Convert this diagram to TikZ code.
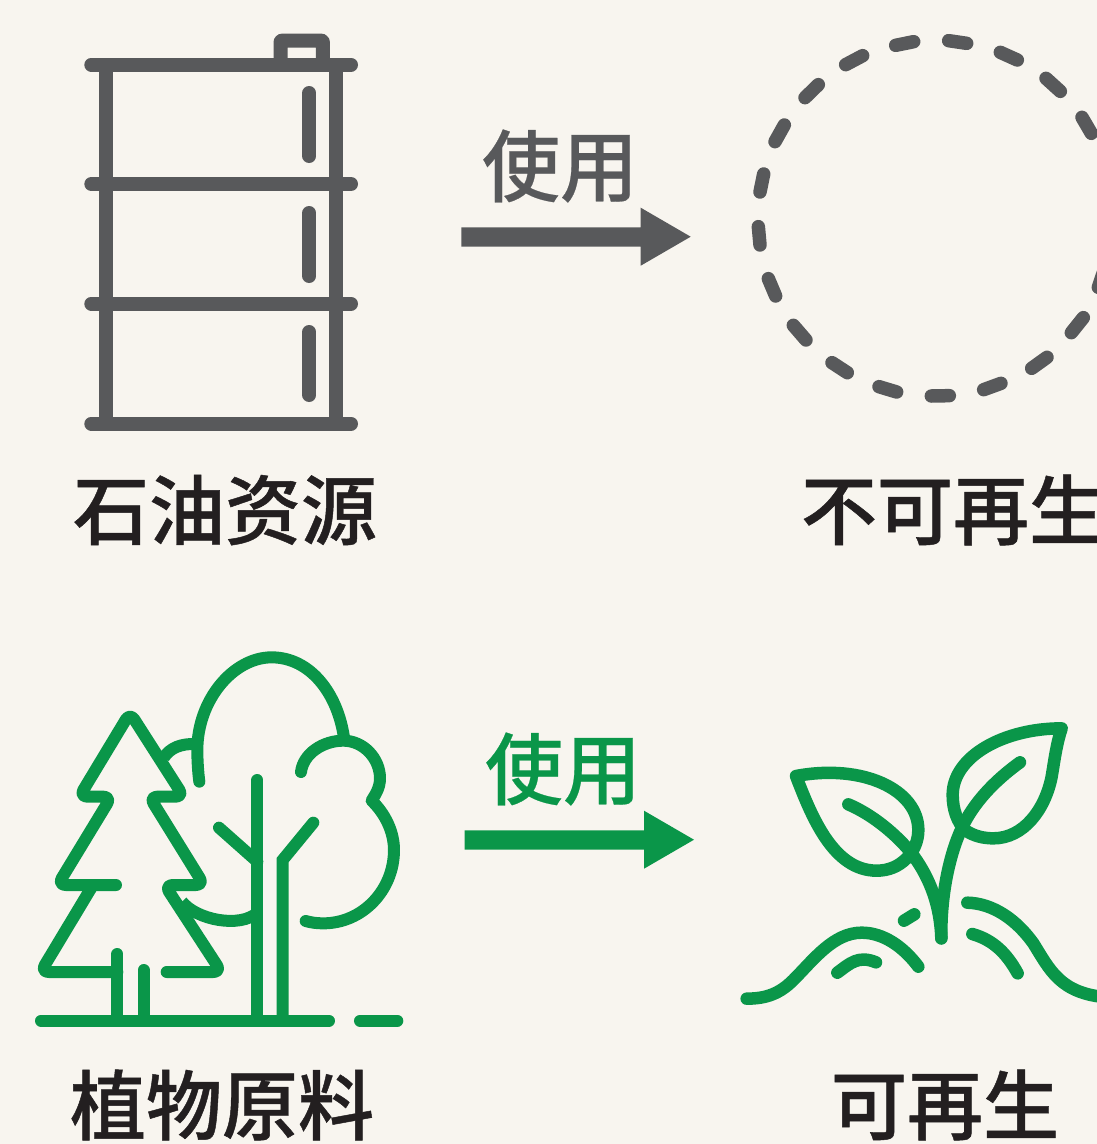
\documentclass[tikz,border=0pt]{standalone}
\usepackage{fontspec}
\newfontfamily\cjk[FakeBold=0.6]{Noto Sans CJK SC Medium}
\newfontfamily\cjkuse[FakeBold=0.3]{Noto Sans CJK SC Medium}
\definecolor{bgc}{HTML}{F8F5EF}
\definecolor{grn}{HTML}{0A9649}
\definecolor{gry}{HTML}{58595B}
\definecolor{ink}{HTML}{231F20}
\tikzset{
  x=1pt,y=-1pt,
  gstroke/.style={draw=gry,line width=14pt,line cap=round,line join=round},
  dashseg/.style={draw=gry,line width=13.5pt,line cap=round},
  lstroke/.style={draw=grn,line width=12pt,line cap=round,line join=round},
  plantstroke/.style={draw=grn,line width=12.5pt,line cap=round,line join=round},
  bigtext/.style={font=\cjk\fontsize{76pt}{76pt}\selectfont,text=ink,inner sep=0pt,anchor=center},
  usetext/.style={font=\cjkuse\fontsize{78pt}{78pt}\selectfont,inner sep=0pt,anchor=center},
  zoomA/.style={shift={(20,640)},x=0.33333pt,y=-0.33333pt},
  zoomB/.style={shift={(730,710)},x=0.33333pt,y=-0.33333pt},
  zoomC/.style={shift={(730,20)},x=0.33333pt,y=-0.33333pt},
}
\begin{document}
\begin{tikzpicture}
\path[use as bounding box,fill=bgc] (0,0) rectangle (1097,1144);
\clip (0,0) rectangle (1097,1144);
% barrel
\draw[gstroke] (91.3,64.7) -- (351,64.7);
\draw[gstroke] (91.3,184) -- (351,184);
\draw[gstroke] (91.3,303.7) -- (351,303.7);
\draw[gstroke] (91.3,423.7) -- (351,423.7);
\draw[gstroke,line cap=butt] (105.7,64.7) -- (105.7,423.7);
\draw[gstroke,line cap=butt] (336.3,64.7) -- (336.3,423.7);
\draw[gstroke] (309.3,93) -- (309.3,156);
\draw[gstroke] (309.3,213) -- (309.3,276);
\draw[gstroke] (309.3,332) -- (309.3,395);
\draw[gstroke,line cap=butt,rounded corners=1pt] (280.6,64.7) -- (280.6,40.7) -- (322.8,40.7) -- (322.8,64.7);
% arrows
\fill[gry] (461.3,227.3) -- (640.7,227.3) -- (640.7,207.7) -- (690.7,236.7) -- (640.7,265.7) -- (640.7,246.7) -- (461.3,246.7) -- cycle;
\fill[grn] (464.6,830.3) -- (644,830.3) -- (644,810.7) -- (694,839.7) -- (644,868.7) -- (644,849.7) -- (464.6,849.7) -- cycle;
% dashed circle
\begin{scope}[zoomC]
\foreach \a/\b/\c/\d in {604/1128/658/1127,447/1100/500/1116,306/1028/352/1058,190/916/228/960,115/776/137/828,85/620/90/675,90/516/101/462,135/365/163/315,225/233/265/194,347/134/398/107,497/76/551/65,656/62/710/70,811/97/862/120,948/175/991/214,1056/292/1084/340,1105/802/1122/752,1024/938/1060/893,905/1045/951/1012,761/1109/813/1090}
  \draw[dashseg] (\a,\b) -- (\c,\d);
\end{scope}
% trees
\begin{scope}[zoomA]
\draw[lstroke,rounded corners=8pt] (288,735) -- (113,735) -- (274,470) -- (178,470) -- (330,218) -- (491,470) -- (388,470) -- (552,735) -- (434,735) -- (604,996) -- (440,996);
\draw[lstroke,rounded corners=8pt] (213,745) -- (62,996) -- (292,996);
\draw[lstroke] (292,942) -- (292,1140);
\draw[lstroke] (371,990) -- (371,1140);
\draw[lstroke] (63,1142) -- (927,1142);
\draw[lstroke] (1020,1142) -- (1132,1142);
\draw[lstroke] (712,420) -- (712,1140);
\draw[lstroke,line join=miter] (788,1140) -- (788,660) -- (880,548);
\draw[lstroke] (597,563) -- (712,665);
\draw[lstroke] (538,425) .. controls (534,395) and (532,360) .. (532,330) .. controls (532,180) and (640,52) .. (755,52) .. controls (870,52) and (955,160) .. (973,300);
\draw[lstroke] (843,396) .. controls (850,340) and (910,302) .. (970,302) .. controls (1030,302) and (1080,355) .. (1080,415) .. controls (1080,445) and (1065,465) .. (1055,482) .. controls (1095,520) and (1122,575) .. (1122,630) .. controls (1122,751) and (1027,850) .. (910,850) .. controls (890,850) and (875,848) .. (857,843);
\draw[lstroke,line cap=butt] (432,352) .. controls (450,325) and (480,310) .. (530,312);
\draw[lstroke,line cap=butt] (486,785) .. controls (530,840) and (660,865) .. (712,818);
\end{scope}
% plant
\begin{scope}[zoomB]
\draw[plantstroke] (198,198) .. controls (400,160) and (565,240) .. (565,360) .. controls (565,395) and (550,425) .. (530,445) .. controls (505,470) and (475,482) .. (440,482) .. controls (310,482) and (245,320) .. (198,198) -- cycle;
\draw[plantstroke] (355,283) .. controls (430,315) and (500,375) .. (545,430) .. controls (590,490) and (630,570) .. (634,685);
\draw[plantstroke] (995,55) .. controls (820,55) and (668,140) .. (668,255) .. controls (668,300) and (683,338) .. (705,360) .. controls (730,378) and (760,385) .. (790,385) .. controls (880,385) and (945,300) .. (965,200) .. controls (975,140) and (980,100) .. (995,55) -- cycle;
\draw[plantstroke] (870,157) .. controls (790,215) and (730,280) .. (695,355) .. controls (660,430) and (632,550) .. (634,685);
\draw[plantstroke] (50,866) .. controls (110,866) and (150,850) .. (190,810) .. controls (250,750) and (310,668) .. (395,668) .. controls (460,668) and (520,710) .. (565,770);
\draw[plantstroke] (322,788) .. controls (360,760) and (385,735) .. (438,757);
\draw[plantstroke] (522,632) -- (553,613);
\draw[plantstroke] (712,578) .. controls (790,580) and (860,630) .. (910,700) .. controls (960,780) and (990,850) .. (1130,862);
\draw[plantstroke] (727,672) .. controls (790,690) and (830,730) .. (863,790);
\end{scope}
% text
\node[usetext,text=gry] (useA) at (560,166) {使用};
\node[usetext,text=grn] (useB) at (563,769) {使用};
\node[bigtext] (oil) at (225,510) {石油资源};
\node[bigtext] (nonren) at (953,510) {不可再生};
\node[bigtext] (plantraw) at (222,1105) {植物原料};
\node[bigtext] (ren) at (945,1105) {可再生};
\end{tikzpicture}
\end{document}
